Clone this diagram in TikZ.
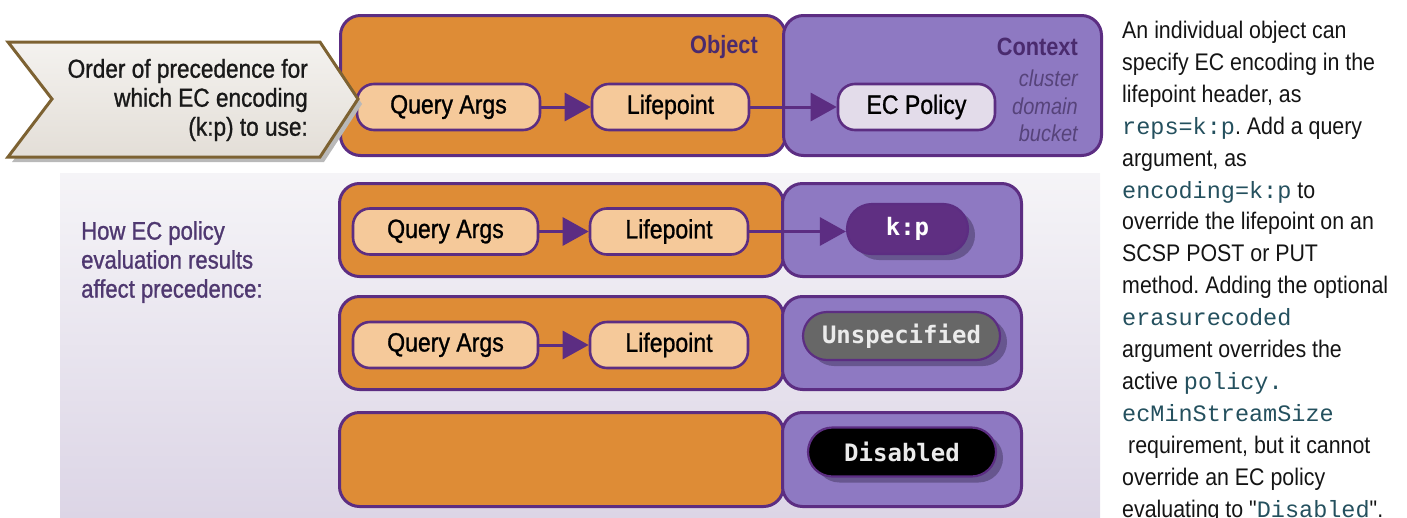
\documentclass[tikz,border=0pt]{standalone}
\usepackage{fontspec}
\setmainfont{Liberation Sans}
\newfontfamily\condf{Liberation Sans}[FakeStretch=0.87]
\newfontfamily\condm{Liberation Sans}[FakeStretch=0.87, FakeBold=1]
\newfontfamily\txtf{Liberation Sans}[FakeStretch=0.89]
\newfontfamily\monof{DejaVu Sans Mono}
\newfontfamily\codef{Liberation Mono}
\usetikzlibrary{arrows.meta,shadows,shapes.misc,calc}
\definecolor{orng}{HTML}{DE8C36}
\definecolor{purp}{HTML}{5C2D82}
\definecolor{ctx}{HTML}{8E79C2}
\definecolor{peach}{HTML}{F5C99A}
\definecolor{lav}{HTML}{E3DCEA}
\definecolor{kpfill}{HTML}{5F2F82}
\definecolor{unsfill}{HTML}{676767}
\definecolor{pillshadow}{HTML}{67568F}
\definecolor{ttl}{HTML}{4A2B6E}
\definecolor{ctxsub}{HTML}{56437A}
\definecolor{howc}{HTML}{4F3870}
\definecolor{codec}{HTML}{24505E}
\definecolor{chevtop}{HTML}{F4F2EF}
\definecolor{chevbot}{HTML}{E3DED7}
\definecolor{chevline}{HTML}{7D6232}
\definecolor{paneltop}{HTML}{F5F4F7}
\definecolor{panelbot}{HTML}{DCD5E6}
\newcommand\ecode[1]{{\codef\fontsize{23.5}{31.9}\selectfont\color{codec}#1}}
\frenchspacing
\begin{document}
\begin{tikzpicture}[x=1pt,y=-1pt,
  bigbox/.style={draw=purp, line width=3pt, rounded corners=20pt, inner sep=0pt, anchor=north west},
  objbox/.style={bigbox, fill=orng},
  ctxbox/.style={bigbox, fill=ctx},
  item/.style={draw=purp, line width=2.6pt, rounded corners=17pt, fill=peach, minimum height=46pt, inner sep=0pt, text=black, font=\condm\fontsize{26.5}{29}\selectfont},
  ecp/.style={item, fill=lav},
  pill/.style={rounded rectangle, draw=purp, line width=2.2pt, inner sep=0pt, minimum height=49pt, font=\monof\bfseries\fontsize{24}{28}\selectfont, drop shadow={shadow xshift=7pt, shadow yshift=-6pt, fill=pillshadow, opacity=1}},
  flow/.style={draw=purp, line width=3pt, -{Triangle[length=26pt,width=28pt]}},
  lbl/.style={anchor=east, inner sep=0pt},
]
\useasboundingbox (0,0) rectangle (1407,517);

% background panel
\shade[top color=paneltop, bottom color=panelbot] (60,173) rectangle (1100,517);

% ---- top row ----
\node[objbox, minimum width=445pt, minimum height=140pt] (objT) at (339,14) {};
\node[ctxbox, minimum width=318pt, minimum height=140pt] (ctxT) at (782,14) {};
\node[lbl, font=\condf\bfseries\fontsize{25}{28}\selectfont, text=ttl] (objlbl) at (758,47) {Object};
\node[lbl, font=\condf\bfseries\fontsize{25}{28}\selectfont, text=ttl] (ctxlbl) at (1078,47) {Context};
\node[lbl, font=\condf\itshape\fontsize{23}{26}\selectfont, text=ctxsub] (cl) at (1078,78) {cluster};
\node[lbl, font=\condf\itshape\fontsize{23}{26}\selectfont, text=ctxsub] (dm) at (1078,106) {domain};
\node[lbl, font=\condf\itshape\fontsize{23}{26}\selectfont, text=ctxsub] (bk) at (1078,133) {bucket};
\node[item, minimum width=183pt] (QA1) at (448.5,107) {Query Args};
\node[item, minimum width=157pt] (LP1) at (670.5,107) {Lifepoint};
\node[ecp, minimum width=157pt] (ECP) at (916.5,107) {EC Policy};
\draw[flow] (QA1) -- (LP1);
\draw[flow] (LP1) -- (ECP);

% chevron
\fill[gray!55, shift={(4,5)}] (8,42) -- (320,42) -- (358,99) -- (320,157) -- (8,157) -- (52,99) -- cycle;
\draw[draw=chevline, line width=3pt, top color=chevtop, bottom color=chevbot, line join=miter]
  (8,42) -- (320,42) -- (358,99) -- (320,157) -- (8,157) -- (52,99) -- cycle;
\node[anchor=east, align=right, inner sep=0pt, font=\condm\fontsize{26}{29}\selectfont, text=black!90] (order) at (308,100)
  {Order of precedence for\\which EC encoding\hspace*{7pt}\\(k:p) to use:};

% ---- lower rows ----
\node[anchor=north west, align=left, inner sep=0pt, font=\condm\fontsize{25.4}{29}\selectfont, text=howc] (how) at (81,221)
  {How EC policy\\evaluation results\\affect precedence:};

% row A
\node[objbox, minimum width=444pt, minimum height=93pt] (objA) at (338,182) {};
\node[ctxbox, minimum width=239pt, minimum height=93pt] (ctxA) at (781,182) {};
\node[item, minimum width=185pt] (QA2) at (445.5,231.5) {Query Args};
\node[item, minimum width=158pt] (LP2) at (669,231.5) {Lifepoint};
\node[pill, fill=kpfill, text=white, minimum width=121pt, minimum height=50pt] (kp) at (907.5,229) {k:p};
\draw[flow] (QA2) -- (LP2);
\draw[flow] (LP2.east) -- (LP2.east -| kp.west);

% row B
\node[objbox, minimum width=444pt, minimum height=93pt] (objB) at (338,295) {};
\node[ctxbox, minimum width=239pt, minimum height=93pt] (ctxB) at (781,295) {};
\node[item, minimum width=185pt] (QA3) at (445.5,345) {Query Args};
\node[item, minimum width=158pt] (LP3) at (669,345) {Lifepoint};
\node[pill, fill=unsfill, text=black!8, minimum width=197pt, minimum height=48pt] (uns) at (901.5,336) {Unspecified};
\draw[flow] (QA3) -- (LP3);

% row C
\node[objbox, minimum width=444pt, minimum height=94pt] (objC) at (338,411) {};
\node[ctxbox, minimum width=239pt, minimum height=94pt] (ctxC) at (781,411) {};
\node[pill, fill=black, text=black!8, minimum width=188pt, minimum height=49pt] (dis) at (902,452) {Disabled};

% ---- description ----
\node[anchor=north west, align=left, inner sep=0pt, font=\txtf\fontsize{24}{31.9}\selectfont, text=black!92] (desc) at (1122,21)
  {An individual object can\\
   specify EC encoding in the\\
   lifepoint header, as\\
   \ecode{reps=k:p}. Add a query\\
   argument, as\\
   \ecode{encoding=k:p} to\\
   override the lifepoint on an\\
   SCSP POST or PUT\\
   method. Adding the optional\\
   \ecode{erasurecoded}\\
   argument overrides the\\
   active \ecode{policy.}\\
   \ecode{ecMinStreamSize}\\
   \hspace*{6pt}requirement, but it cannot\\
   override an EC policy\\
   evaluating to "\ecode{Disabled}".};
\end{tikzpicture}
\end{document}
